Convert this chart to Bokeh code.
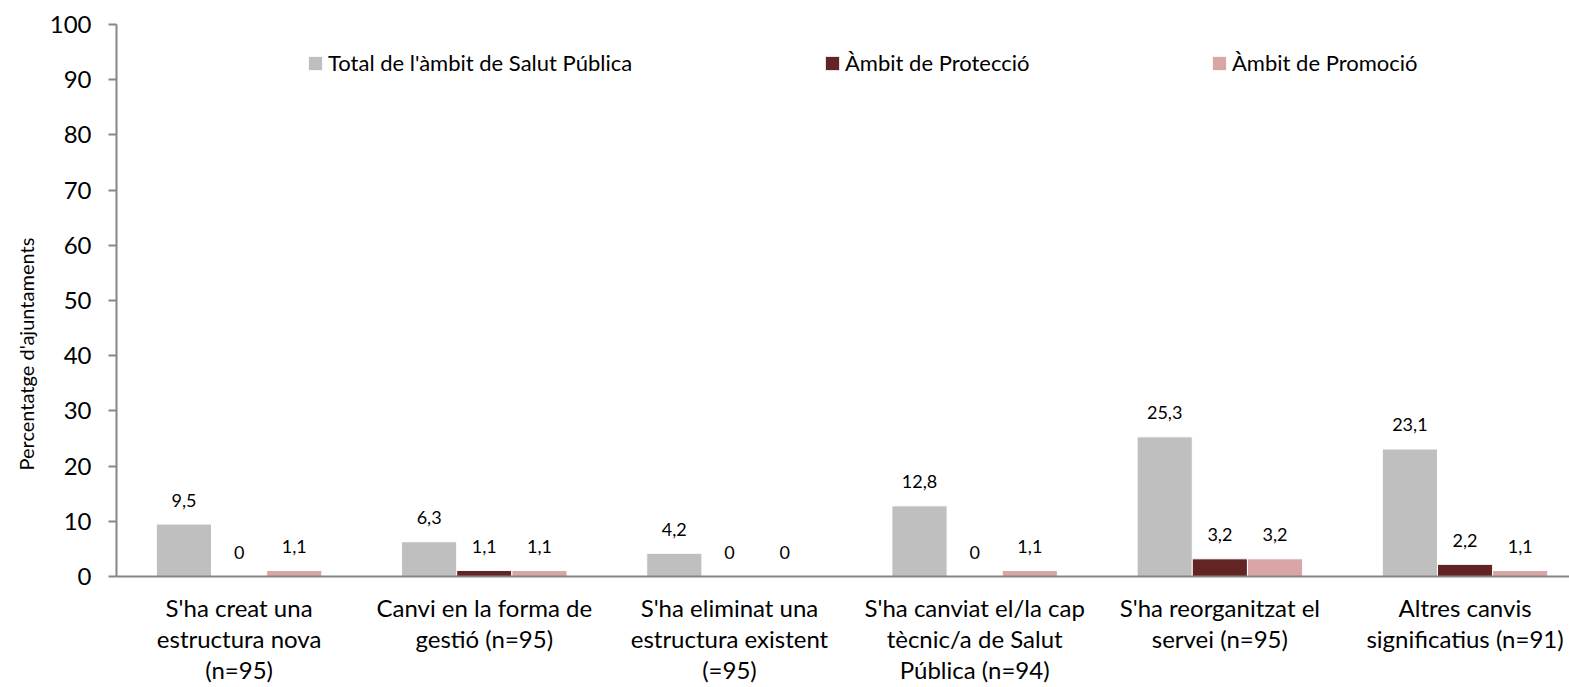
from bokeh.plotting import figure
from bokeh.models import Range1d, FixedTicker, Legend, LegendItem, ColumnDataSource, Title
from bokeh.core.properties import value
from bokeh.embed import file_html
from bokeh.resources import INLINE

categories = [
    "S'ha creat una\nestructura nova\n(n=95)",
    "Canvi en la forma de\ngestió (n=95)",
    "S'ha eliminat una\nestructura existent\n(=95)",
    "S'ha canviat el/la cap\ntècnic/a de Salut\nPública (n=94)",
    "S'ha reorganitzat el\nservei (n=95)",
    "Altres canvis\nsignificatius (n=91)",
]
series_names = ["Total de l'àmbit de Salut Pública", "Àmbit de Protecció", "Àmbit de Promoció"]
total = [9.5, 6.3, 4.2, 12.8, 25.3, 23.1]
proteccio = [0, 1.1, 0, 0, 3.2, 2.2]
promocio = [1.1, 1.1, 0, 1.1, 3.2, 1.1]
y_ticks = [0, 10, 20, 30, 40, 50, 60, 70, 80, 90, 100]
y_label = "Percentatge d'ajuntaments"

colors = ["#BFBFBF", "#632523", "#D9A6A6"]
FONT = "Lato"

p = figure(width=1569, height=687, output_backend="svg", toolbar_location=None,
           x_range=Range1d(0, 5.926), y_range=Range1d(0, 100),
           min_border_left=116, min_border_right=0, min_border_top=24, min_border_bottom=111)
p.outline_line_color = None
p.grid.visible = False
p.background_fill_color = "white"

width = 0.225
offsets = [-0.225, 0.0, 0.225]
renderers = []
for vals, off, col in zip([total, proteccio, promocio], offsets, colors):
    xs = [i + 0.5 + off for i in range(len(categories))]
    labels = [("%g" % v).replace(".", ",") for v in vals]
    src = ColumnDataSource(dict(x=xs, top=vals, lab=labels))
    r = p.vbar(x="x", top="top", width=width, bottom=0, source=src,
               fill_color=col, line_color="white", line_width=1)
    renderers.append(r)
    p.text(x="x", y="top", text="lab", source=src, text_align="center",
           text_baseline="middle", y_offset=-24, text_font_size="18px",
           text_font=value(FONT), text_color="#000000")

# axes
yax = p.yaxis[0]
yax.ticker = FixedTicker(ticks=y_ticks)
yax.axis_line_color = "#868686"
yax.axis_line_width = 2
yax.major_tick_line_color = "#868686"
yax.major_tick_line_width = 2
yax.major_tick_out = 8
yax.major_tick_in = 0
yax.minor_tick_line_color = None
yax.major_label_text_font = FONT
yax.major_label_text_font_size = "24px"
yax.major_label_text_color = "#000000"
yax.major_label_standoff = 17

# y-axis title as a side title, aligned from the bottom of the frame like the reference
p.add_layout(Title(text=y_label, align="left", offset=106, standoff=17,
                   text_font=FONT, text_font_size="20px", text_font_style="normal",
                   text_color="#000000"), "left")

xax = p.xaxis[0]
xax.ticker = FixedTicker(ticks=[i + 0.5 for i in range(len(categories))])
xax.major_label_overrides = {i + 0.5: c for i, c in enumerate(categories)}
xax.axis_line_color = "#868686"
xax.axis_line_width = 2
xax.major_tick_line_color = None
xax.minor_tick_line_color = None
xax.major_label_text_font = FONT
xax.major_label_text_font_size = "24px"
xax.major_label_text_color = "#000000"
xax.major_label_text_line_height = 1.08
xax.major_label_standoff = 10

# legends (one per item, positioned like the reference)
leg_x = [190, 707, 1094]
for r, name, lx in zip(renderers, series_names, leg_x):
    leg = Legend(items=[LegendItem(label=name, renderers=[r])], location=(lx, 500),
                 orientation="horizontal", border_line_color=None,
                 background_fill_alpha=0, padding=0, margin=0,
                 glyph_width=18, glyph_height=18, label_height=20,
                 label_standoff=4, label_text_font=FONT, label_text_font_size="22px",
                 label_text_color="#000000")
    p.add_layout(leg, "center")

open("out.html", "w").write(file_html(p, INLINE))
